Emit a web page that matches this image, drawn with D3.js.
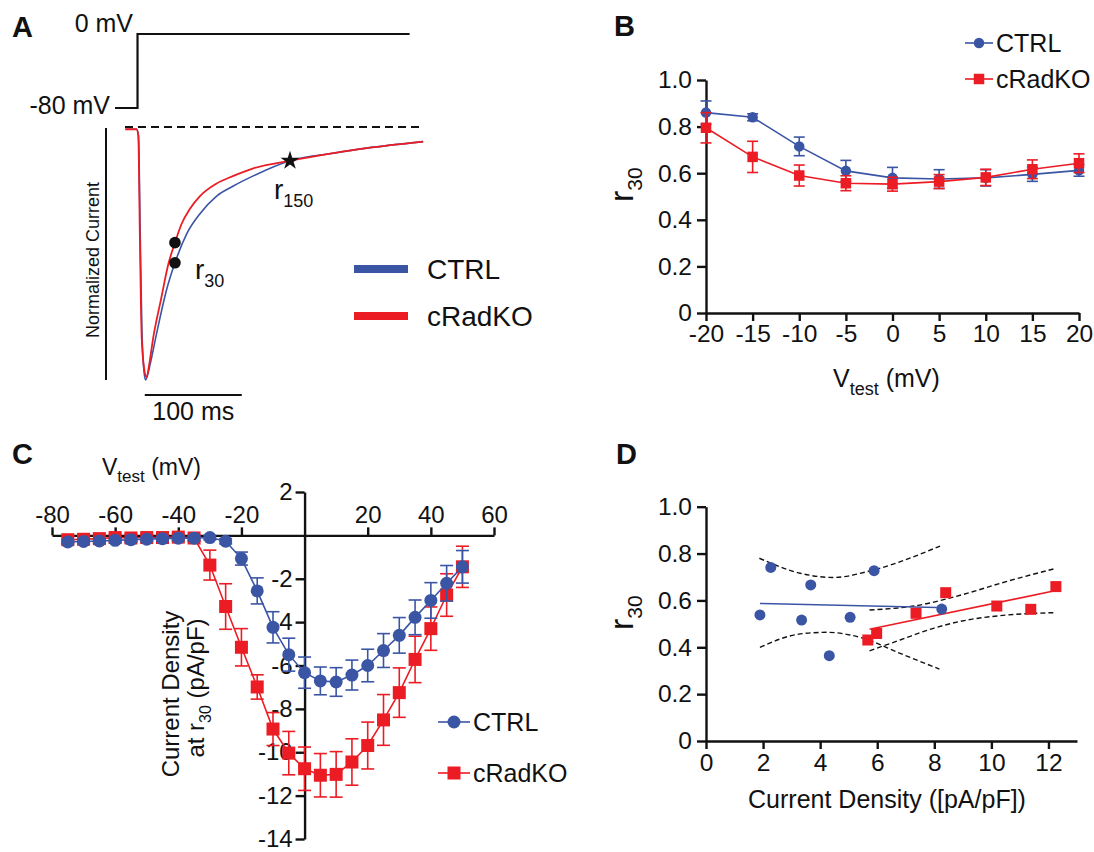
<!DOCTYPE html>
<html>
<head>
<meta charset="utf-8">
<script src="https://d3js.org/d3.v7.min.js"></script>
<style>
body { margin: 0; background: #fff; }
svg text { font-family: "Liberation Sans", Arial, Helvetica, sans-serif; fill: #111; }
</style>
</head>
<body>
<svg id="fig" width="1094" height="852"></svg>
<script>
// ---------------- data ----------------
// A: voltage protocol and example normalized current traces (time in ms)
const protocolTime = [-23.7, -0.5, -0.5, 280];
const protocolMv = [-80, -80, 0, 0];
const ctrlTraceTime = [-13, -1.5, 0.5, 2.2, 4, 6.3, 7.9, 9.8, 12.4, 19.2, 29.6, 38.1, 50.2, 63.9, 81.1, 98.3, 118.9, 156.7, 201.4, 235.7, 294];
const ctrlTraceCurr = [-0.005, -0.005, -0.03, -0.4, -0.8, -0.97, -1.0, -0.98, -0.94, -0.815, -0.64, -0.535, -0.42, -0.34, -0.27, -0.23, -0.19, -0.13, -0.10, -0.08, -0.054];
const koTraceTime = [-13, -1.5, 0.3, 2, 3.8, 6.5, 8.9, 11.5, 15.8, 23.7, 31.3, 38.1, 45, 53.6, 63.9, 81.1, 98.3, 118.9, 156.7, 201.4, 235.7, 294];
const koTraceCurr = [-0.005, -0.005, -0.03, -0.45, -0.83, -0.96, -0.99, -0.94, -0.83, -0.68, -0.54, -0.455, -0.38, -0.32, -0.27, -0.22, -0.19, -0.16, -0.13, -0.10, -0.08, -0.054];
const r30Time = 38.1;
const r150Time = 156.7;

// B: r30 vs Vtest
const bVolt = [-20, -15, -10, -5, 0, 5, 10, 15, 20];
const bCtrlMean = [0.86, 0.84, 0.715, 0.61, 0.58, 0.575, 0.58, 0.595, 0.612];
const bCtrlErr = [0.05, 0.015, 0.04, 0.045, 0.045, 0.04, 0.035, 0.03, 0.025];
const bKoMean = [0.795, 0.67, 0.59, 0.557, 0.553, 0.564, 0.582, 0.617, 0.643];
const bKoErr = [0.065, 0.067, 0.045, 0.032, 0.03, 0.03, 0.035, 0.04, 0.04];

// C: current density at r30 vs Vtest
const cVolt = [-75, -70, -65, -60, -55, -50, -45, -40, -35, -30, -25, -20, -15, -10, -5, 0, 5, 10, 15, 20, 25, 30, 35, 40, 45, 50];
const cCtrlMean = [-0.3, -0.28, -0.26, -0.23, -0.2, -0.18, -0.15, -0.13, -0.13, -0.1, -0.27, -1.07, -2.56, -4.24, -5.5, -6.33, -6.71, -6.76, -6.44, -6.0, -5.31, -4.61, -3.78, -3.0, -2.21, -1.45];
const cCtrlErr = [0.1, 0.1, 0.1, 0.1, 0.1, 0.1, 0.1, 0.1, 0.1, 0.1, 0.12, 0.3, 0.6, 0.72, 0.76, 0.72, 0.64, 0.66, 0.69, 0.75, 0.78, 0.82, 0.8, 0.82, 0.82, 0.75];
const cKoMean = [-0.2, -0.18, -0.15, -0.1, -0.12, -0.1, -0.1, -0.08, -0.12, -1.37, -3.28, -5.16, -6.99, -8.93, -10.04, -10.76, -11.06, -11.02, -10.45, -9.69, -8.51, -7.25, -5.72, -4.3, -2.75, -1.45];
const cKoErr = [0.15, 0.15, 0.15, 0.15, 0.15, 0.15, 0.15, 0.15, 0.15, 0.69, 1.05, 0.86, 0.56, 0.76, 1.0, 1.0, 1.0, 1.05, 1.07, 1.08, 1.17, 1.14, 1.07, 1.0, 0.98, 0.95];

// D: r30 vs current density, individual cells, fits and 95% bands
const dCtrlX = [1.89, 2.27, 3.35, 3.67, 4.32, 5.05, 5.89, 8.26];
const dCtrlY = [0.538, 0.741, 0.516, 0.666, 0.364, 0.528, 0.727, 0.563];
const dKoX = [5.67, 5.98, 7.36, 8.40, 10.19, 11.38, 12.26];
const dKoY = [0.431, 0.459, 0.545, 0.633, 0.576, 0.562, 0.659];
const dCtrlFitX = [1.89, 8.09];
const dCtrlFitY = [0.587, 0.570];
const dKoFitX = [5.73, 12.26];
const dKoFitY = [0.477, 0.642];
const dCtrlBandX = [1.87, 3.3, 4.46, 5.87, 8.2];
const dCtrlUpper = [0.78, 0.716, 0.698, 0.73, 0.832];
const dCtrlBandLoX = [1.89, 3.3, 4.23, 5.52, 6.8, 8.18];
const dCtrlLower = [0.40, 0.457, 0.464, 0.438, 0.374, 0.307];
const dKoBandX = [5.73, 7.38, 9.14, 10.31, 12.26];
const dKoUpper = [0.559, 0.578, 0.630, 0.673, 0.737];
const dKoBandLoX = [5.73, 6.8, 7.97, 9.14, 10.31, 12.26];
const dKoLower = [0.385, 0.431, 0.481, 0.516, 0.535, 0.548];

// ---------------- drawing ----------------
const BLUE = '#3b55a5', RED = '#ec1c24', INK = '#111';
const svg = d3.select('#fig');
const zip = (a, b) => a.map((v, i) => [v, b[i]]);
const fmtMinus = d => String(d);

function styleAxis(g, fs) {
  g.select('.domain').attr('stroke', INK).attr('stroke-width', 2.4);
  g.selectAll('.tick line').attr('stroke', INK).attr('stroke-width', 2.4);
  g.selectAll('.tick text').attr('font-size', fs).attr('fill', INK)
    .attr('font-family', '"Liberation Sans", Arial, Helvetica, sans-serif');
}

function panelLetter(t, x, y) {
  svg.append('text').attr('x', x).attr('y', y).attr('font-size', 29)
    .attr('font-weight', 'bold').text(t);
}

function subLabel(g, x, y, main, sub, rest, fs, sfs, rot) {
  const t = g.append('text').attr('font-size', fs)
    .attr('transform', 'translate(' + x + ',' + y + ')' + (rot ? ' rotate(-90)' : ''));
  t.append('tspan').text(main);
  t.append('tspan').attr('font-size', sfs).attr('dy', sfs * 0.42).text(sub);
  if (rest) t.append('tspan').attr('dy', -sfs * 0.42).text(rest);
  return t;
}

function drawSeries(g, xs, ys, errs, xS, yS, color, shape, size, cap) {
  const pts = xs.map((x, i) => ({ x: x, y: ys[i], e: errs ? errs[i] : 0 }));
  g.append('path').datum(pts)
    .attr('fill', 'none').attr('stroke', color).attr('stroke-width', 1.6)
    .attr('d', d3.line().x(d => xS(d.x)).y(d => yS(d.y)));
  if (errs) {
    const eb = g.append('g').attr('stroke', color).attr('stroke-width', 1.6);
    pts.forEach(d => {
      const px = xS(d.x), y1 = yS(d.y - d.e), y2 = yS(d.y + d.e);
      eb.append('line').attr('x1', px).attr('x2', px).attr('y1', y1).attr('y2', y2);
      eb.append('line').attr('x1', px - cap).attr('x2', px + cap).attr('y1', y1).attr('y2', y1);
      eb.append('line').attr('x1', px - cap).attr('x2', px + cap).attr('y1', y2).attr('y2', y2);
    });
  }
  drawMarkers(g, pts, xS, yS, color, shape, size);
}

function drawMarkers(g, pts, xS, yS, color, shape, size) {
  if (shape === 'circle') {
    g.selectAll(null).data(pts).enter().append('circle')
      .attr('cx', d => xS(d.x)).attr('cy', d => yS(d.y)).attr('r', size / 2)
      .attr('fill', color);
  } else {
    g.selectAll(null).data(pts).enter().append('rect')
      .attr('x', d => xS(d.x) - size / 2).attr('y', d => yS(d.y) - size / 2)
      .attr('width', size).attr('height', size).attr('fill', color);
  }
}

function legendItem(g, x1, x2, y, color, shape, size, label, fs) {
  g.append('line').attr('x1', x1).attr('x2', x2).attr('y1', y).attr('y2', y)
    .attr('stroke', color).attr('stroke-width', 1.6);
  drawMarkers(g, [{ x: (x1 + x2) / 2, y: y }], d => d, d => d, color, shape, size);
  g.append('text').attr('x', x2 + 3).attr('y', y + fs * 0.36).attr('font-size', fs).text(label);
}

// ===== Panel A =====
panelLetter('A', 12, 37);
const gA = svg.append('g');
const aT = d3.scaleLinear().domain([0, 100]).range([138, 235]);
const aV = d3.scaleLinear().domain([-80, 0]).range([108, 34]);
const aI = d3.scaleLinear().domain([-1, 0]).range([380, 128]);

gA.append('path').datum(zip(protocolTime, protocolMv))
  .attr('fill', 'none').attr('stroke', INK).attr('stroke-width', 2.2)
  .attr('d', d3.line().x(d => aT(d[0])).y(d => aV(d[1])));
gA.append('text').attr('x', 133).attr('y', 32).attr('text-anchor', 'end').attr('font-size', 25).text('0 mV');
gA.append('text').attr('x', 110).attr('y', 114).attr('text-anchor', 'end').attr('font-size', 25).text('-80 mV');

gA.append('line').attr('x1', aT(-13.4)).attr('x2', aT(294)).attr('y1', aI(0) - 1).attr('y2', aI(0) - 1)
  .attr('stroke', INK).attr('stroke-width', 2.2).attr('stroke-dasharray', '8,5');

const traceLine = d3.line().x(d => aT(d[0])).y(d => aI(d[1])).curve(d3.curveMonotoneX);
gA.append('path').datum(zip(ctrlTraceTime, ctrlTraceCurr))
  .attr('fill', 'none').attr('stroke', BLUE).attr('stroke-width', 1.6).attr('d', traceLine);
gA.append('path').datum(zip(koTraceTime, koTraceCurr))
  .attr('fill', 'none').attr('stroke', RED).attr('stroke-width', 1.8).attr('d', traceLine);

// r30 / r150 markers
const koR30 = koTraceCurr[koTraceTime.indexOf(r30Time)];
const ctrlR30 = ctrlTraceCurr[ctrlTraceTime.indexOf(r30Time)];
[koR30, ctrlR30].forEach(v => {
  gA.append('circle').attr('cx', aT(r30Time)).attr('cy', aI(v)).attr('r', 5.8).attr('fill', INK);
});
gA.append('path').attr('d', d3.symbol().type(d3.symbolStar).size(110)())
  .attr('transform', 'translate(' + aT(r150Time) + ',' + aI(ctrlTraceCurr[ctrlTraceTime.indexOf(r150Time)]) + ')')
  .attr('fill', INK);
subLabel(gA, 195, 279, 'r', '30', null, 28, 18, false);
subLabel(gA, 274, 199, 'r', '150', null, 28, 18, false);

// scale bars
gA.append('line').attr('x1', 106).attr('x2', 106).attr('y1', aI(0)).attr('y2', aI(-1))
  .attr('stroke', INK).attr('stroke-width', 2);
gA.append('text').attr('transform', 'translate(99,' + ((aI(0) + aI(-1)) / 2 + 6) + ') rotate(-90)')
  .attr('text-anchor', 'middle').attr('font-size', 18).text('Normalized Current');
gA.append('line').attr('x1', aT(7)).attr('x2', aT(107)).attr('y1', 395).attr('y2', 395)
  .attr('stroke', INK).attr('stroke-width', 2.2);
gA.append('text').attr('x', aT(57)).attr('y', 420).attr('text-anchor', 'middle').attr('font-size', 25).text('100 ms');

// legend
[['CTRL', BLUE, 269], ['cRadKO', RED, 316]].forEach(l => {
  gA.append('line').attr('x1', 354).attr('x2', 408).attr('y1', l[2]).attr('y2', l[2])
    .attr('stroke', l[1]).attr('stroke-width', 8);
  gA.append('text').attr('x', 427).attr('y', l[2] + 10).attr('font-size', 28).text(l[0]);
});

// ===== Panel B =====
panelLetter('B', 614, 36);
const gB = svg.append('g');
const bx = d3.scaleLinear().domain([-20, 20]).range([706, 1079]);
const by = d3.scaleLinear().domain([0, 1]).range([313, 80]);
gB.append('g').attr('transform', 'translate(0,' + by(0) + ')')
  .call(d3.axisBottom(bx).tickValues(bVolt).tickFormat(fmtMinus).tickSize(8).tickPadding(4).tickSizeOuter(0))
  .call(g => styleAxis(g, 24.5));
gB.append('g').attr('transform', 'translate(' + bx(-20) + ',0)')
  .call(d3.axisLeft(by).tickValues([0, 0.2, 0.4, 0.6, 0.8, 1.0])
    .tickFormat(d => d === 0 ? '0' : d.toFixed(1)).tickSize(9).tickPadding(5).tickSizeOuter(0))
  .call(g => styleAxis(g, 24.5));
drawSeries(gB, bVolt, bCtrlMean, bCtrlErr, bx, by, BLUE, 'circle', 10.5, 5.5);
drawSeries(gB, bVolt, bKoMean, bKoErr, bx, by, RED, 'square', 10.5, 5.5);
subLabel(gB, 833, 387, 'V', 'test', ' (mV)', 25, 18, false);
subLabel(gB, 633, 202, 'r', '30', null, 34, 21, true);
const legB = gB.append('g');
legendItem(legB, 965, 993, 43, BLUE, 'circle', 10.5, 'CTRL', 25);
legendItem(legB, 965, 993, 79, RED, 'square', 10.5, 'cRadKO', 25);

// ===== Panel C =====
panelLetter('C', 12, 464);
const gC = svg.append('g');
const cx = d3.scaleLinear().domain([-80, 60]).range([52, 494]);
const cy = d3.scaleLinear().domain([-14, 2]).range([839, 492]);
gC.append('g').attr('transform', 'translate(0,' + cy(0) + ')')
  .call(d3.axisTop(cx).tickValues([-80, -60, -40, -20, 20, 40, 60]).tickFormat(fmtMinus)
    .tickSize(8).tickPadding(4).tickSizeOuter(0))
  .call(g => styleAxis(g, 24));
gC.append('g').attr('transform', 'translate(' + cx(0) + ',0)')
  .call(d3.axisLeft(cy).tickValues([2, -2, -4, -6, -8, -10, -12, -14]).tickFormat(fmtMinus)
    .tickSize(9).tickPadding(3).tickSizeOuter(0))
  .call(g => styleAxis(g, 24));
drawSeries(gC, cVolt, cKoMean, cKoErr, cx, cy, RED, 'square', 13, 6.5);
drawSeries(gC, cVolt, cCtrlMean, cCtrlErr, cx, cy, BLUE, 'circle', 13, 6.5);
subLabel(gC, 102, 475, 'V', 'test', ' (mV)', 23, 17, false);
gC.append('text').attr('transform', 'translate(179,694) rotate(-90)')
  .attr('text-anchor', 'middle').attr('font-size', 24).text('Current Density');
const cyl = gC.append('text').attr('transform', 'translate(204,688) rotate(-90)')
  .attr('text-anchor', 'middle').attr('font-size', 24);
cyl.append('tspan').text('at r');
cyl.append('tspan').attr('font-size', 16).attr('dy', 7).text('30');
cyl.append('tspan').attr('dy', -7).text(' (pA/pF)');
const legC = gC.append('g');
legendItem(legC, 438, 470, 722, BLUE, 'circle', 13, 'CTRL', 25);
legendItem(legC, 438, 470, 773, RED, 'square', 13, 'cRadKO', 25);

// ===== Panel D =====
panelLetter('D', 616, 464);
const gD = svg.append('g');
const dx = d3.scaleLinear().domain([0, 13]).range([706, 1077]);
const dy = d3.scaleLinear().domain([0, 1]).range([741, 506.7]);
gD.append('g').attr('transform', 'translate(0,' + dy(0) + ')')
  .call(d3.axisBottom(dx).tickValues([0, 2, 4, 6, 8, 10, 12]).tickSize(8).tickPadding(5).tickSizeOuter(0))
  .call(g => styleAxis(g, 24.5));
gD.append('g').attr('transform', 'translate(' + dx(0) + ',0)')
  .call(d3.axisLeft(dy).tickValues([0, 0.2, 0.4, 0.6, 0.8, 1.0])
    .tickFormat(d => d === 0 ? '0' : d.toFixed(1)).tickSize(9).tickPadding(5).tickSizeOuter(0))
  .call(g => styleAxis(g, 24.5));

const bandLine = d3.line().x(d => dx(d[0])).y(d => dy(d[1])).curve(d3.curveMonotoneX);
[[dCtrlBandX, dCtrlUpper], [dCtrlBandLoX, dCtrlLower], [dKoBandX, dKoUpper], [dKoBandLoX, dKoLower]]
  .forEach(b => {
    gD.append('path').datum(zip(b[0], b[1])).attr('fill', 'none').attr('stroke', INK)
      .attr('stroke-width', 1.4).attr('stroke-dasharray', '5,3').attr('d', bandLine);
  });
gD.append('path').datum(zip(dCtrlFitX, dCtrlFitY)).attr('fill', 'none').attr('stroke', BLUE)
  .attr('stroke-width', 1.6).attr('d', bandLine);
gD.append('path').datum(zip(dKoFitX, dKoFitY)).attr('fill', 'none').attr('stroke', RED)
  .attr('stroke-width', 1.6).attr('d', bandLine);
drawMarkers(gD, dCtrlX.map((x, i) => ({ x: x, y: dCtrlY[i] })), dx, dy, BLUE, 'circle', 11);
drawMarkers(gD, dKoX.map((x, i) => ({ x: x, y: dKoY[i] })), dx, dy, RED, 'square', 11);
gD.append('text').attr('x', 887).attr('y', 808).attr('text-anchor', 'middle').attr('font-size', 25)
  .text('Current Density ([pA/pF])');
subLabel(gD, 633, 630, 'r', '30', null, 34, 21, true);
</script>
</body>
</html>
